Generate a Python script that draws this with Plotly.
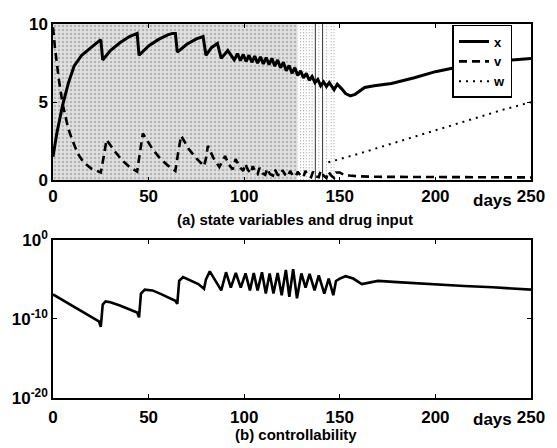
import plotly.graph_objects as go

# ---------------- data: (a) state variables ----------------
x_t = [0, 2, 5, 8, 11, 15, 20, 25, 26, 30, 35, 40, 44, 45, 50, 55, 60, 62.5, 64, 65,
       70, 75, 78.5, 80, 83, 86, 88, 91.4, 94.8,
       96.5, 98, 99.5, 101, 102.5, 104, 105.5, 107, 108.5, 110, 111.5, 113, 114.5,
       116, 117.5, 119, 120.5, 122, 123.5, 125, 126.5, 128, 129.5, 131, 132.5, 134,
       135.5, 137, 138.5, 140, 141.5, 143, 144.5, 147, 148.7, 151, 153, 155.5, 158,
       163, 168, 177, 189, 200, 210, 220, 230, 240, 250]
x_v = [1.5, 3.0, 4.8, 6.2, 7.3, 8.0, 8.5, 9.0, 7.7, 8.3, 8.8, 9.2, 9.4, 8.0, 8.6, 9.0, 9.3, 9.4, 9.4, 8.2,
       8.7, 9.05, 9.2, 8.0, 8.5, 8.75, 7.8, 8.3, 7.7,
       8.1, 7.65, 8.05, 7.6, 8.0, 7.55, 7.95, 7.5, 7.9, 7.45, 7.85, 7.4, 7.8,
       7.3, 7.7, 7.2, 7.55, 7.0, 7.35, 6.85, 7.2, 6.7, 7.0, 6.55, 6.85, 6.4,
       6.65, 6.25, 6.45, 6.05, 6.3, 6.0, 6.25, 5.8, 6.15, 5.85, 5.55, 5.4, 5.5,
       5.94, 6.05, 6.19, 6.56, 6.95, 7.2, 7.4, 7.55, 7.7, 7.8]

v_t = [0, 1, 3, 5, 8, 10, 13, 16, 20, 25, 26.5, 28, 32, 36, 40, 44, 45.5, 47, 52, 56,
       60, 64, 65.5, 67, 71, 75, 79, 80, 81, 84, 87, 88, 90, 92, 94, 95.5, 98, 99.5,
       100.6, 102, 103.5, 104.5, 106, 107, 108, 109.5, 111, 112, 113.5, 115, 116,
       117.5, 119, 120, 121.5, 123, 124, 125.5, 127, 128, 129.5, 131, 132, 133.5,
       135, 136, 137.5, 139, 140, 141.5, 143, 144, 145.5, 147, 148, 150, 152, 155,
       160, 170, 200, 250]
v_v = [9.8, 8.5, 6.5, 4.9, 3.3, 2.6, 1.7, 1.15, 0.75, 0.5, 1.5, 2.6, 1.9, 1.3, 0.85, 0.55, 1.8, 3.0, 2.0, 1.4,
       0.95, 0.6, 1.8, 2.85, 2.0, 1.4, 0.9, 1.4, 2.2, 1.4, 0.85, 1.1, 1.55, 1.0, 0.7, 1.35, 0.8, 0.6,
       1.05, 0.65, 0.45, 0.9, 0.5, 0.4, 0.8, 0.45, 0.35, 0.75, 0.4, 0.3, 0.7,
       0.35, 0.3, 0.65, 0.35, 0.25, 0.6, 0.3, 0.25, 0.55, 0.3, 0.2, 0.6, 0.3,
       0.2, 0.55, 0.25, 0.2, 0.6, 0.3, 0.15, 0.55, 0.3, 0.15, 0.5, 0.5, 0.35, 0.3,
       0.25, 0.22, 0.2, 0.18]

w_t = [144, 160, 180, 200, 220, 235, 250]
w_v = [1.15, 1.7, 2.45, 3.2, 3.95, 4.5, 5.0]

# drug input (bang-bang w) shown as stippled band before switching off
drug_band_t = [0, 128]
drug_band_level = 10
drug_sparse_t = [129.5, 131, 132.5, 134, 135.5, 139, 143, 145.5, 147]
drug_edge_t = [137.2, 141]

# ---------------- data: (b) controllability (log10) ----------------
c_t = [0, 5, 10, 15, 20, 24, 25, 26, 27.5, 30, 35, 40, 44, 45, 46, 48, 52, 56, 60, 64,
       65, 66, 68, 72, 76, 79, 80, 82, 88, 90.5, 93, 95.6, 98.2, 100.7, 103, 105, 107,
       109.3, 111.3, 113.3, 115.3, 117.5, 119.6, 121.8, 123.6, 125.6, 127.6, 129.9,
       132.1, 134.2, 136.8, 139, 141.9, 144.2, 146.6, 148, 150, 153, 157, 161.5, 166,
       170, 180, 190, 200, 215, 230, 240, 250]
c_log = [-6.9, -7.6, -8.3, -9.0, -9.7, -10.3, -11.0, -8.2, -7.8, -7.9, -8.3, -8.8, -9.2, -9.8, -6.8, -6.3, -6.4, -6.8, -7.2, -7.7,
         -8.1, -5.2, -4.7, -5.1, -5.6, -6.2, -5.0, -4.0, -6.4, -4.1, -6.05, -4.2, -6.05, -4.25, -6.4, -4.2, -6.4,
         -4.1, -6.8, -4.25, -6.8, -4.2, -7.0, -3.8, -7.2, -3.7, -7.4, -4.25,
         -6.05, -4.3, -6.4, -4.5, -6.8, -4.9, -7.0, -5.2, -4.9, -4.6, -4.9, -5.6, -5.35,
         -5.2, -5.35, -5.5, -5.7, -5.85, -6.0, -6.15, -6.3]
c_v = [10 ** v for v in c_log]

x_ticks = [0, 50, 100, 150, 200, 250]
y_ticks_a = [0, 5, 10]
y_ticks_b = [1e-20, 1e-10, 1]
y_ticktext_b = ["10<sup>-20</sup>", "10<sup>-10</sup>", "10<sup>0</sup>"]

FONT = "Liberation Sans"

fig = go.Figure()

# stippled drug band
fig.add_trace(go.Scatter(
    x=[drug_band_t[0], drug_band_t[0], drug_band_t[1], drug_band_t[1]],
    y=[0, drug_band_level, drug_band_level, 0],
    fill="toself", mode="none", showlegend=False, hoverinfo="skip",
    fillcolor="#dcdcdc",
    fillpattern=dict(shape=".", fgcolor="#8a8a8a", bgcolor="#e0e0e0", size=4, solidity=0.3),
    xaxis="x", yaxis="y"))
for t in drug_sparse_t:
    fig.add_trace(go.Scatter(x=[t, t], y=[0, drug_band_level], mode="lines",
                             line=dict(color="#9a9a9a", width=1, dash="1px,2px"),
                             showlegend=False, hoverinfo="skip", xaxis="x", yaxis="y"))
for t in drug_edge_t:
    fig.add_trace(go.Scatter(x=[t, t], y=[0, drug_band_level], mode="lines",
                             line=dict(color="#333333", width=1),
                             showlegend=False, hoverinfo="skip", xaxis="x", yaxis="y"))

fig.add_trace(go.Scatter(x=x_t, y=x_v, mode="lines", name="x",
                         line=dict(color="black", width=3), xaxis="x", yaxis="y"))
fig.add_trace(go.Scatter(x=v_t, y=v_v, mode="lines", name="v",
                         line=dict(color="black", width=2.6, dash="8px,5px"), xaxis="x", yaxis="y"))
fig.add_trace(go.Scatter(x=w_t, y=w_v, mode="lines", name="w",
                         line=dict(color="black", width=2, dash="2px,5px"), xaxis="x", yaxis="y"))

fig.add_trace(go.Scatter(x=c_t, y=c_v, mode="lines", showlegend=False,
                         line=dict(color="black", width=2.6), xaxis="x2", yaxis="y2"))

tickfont = dict(family=FONT, size=17, color="black", weight="bold")
axis_common = dict(showline=True, linecolor="black", linewidth=1.5, mirror="ticks",
                   ticks="inside", ticklen=4, tickcolor="black", showgrid=False,
                   zeroline=False, tickfont=tickfont)

fig.update_layout(
    width=557, height=448,
    margin=dict(l=52, r=18, t=15, b=50),
    paper_bgcolor="white", plot_bgcolor="white",
    xaxis=dict(domain=[0, 1], range=[0, 250], tickvals=x_ticks, anchor="y", **axis_common),
    yaxis=dict(domain=[0.5822, 1], range=[0, 10], tickvals=y_ticks_a, anchor="x", **axis_common),
    xaxis2=dict(domain=[0, 1], range=[0, 250], tickvals=x_ticks, anchor="y2",
                ticklabelstandoff=3, **axis_common),
    yaxis2=dict(domain=[0, 0.423], type="log", range=[-20, 0], tickvals=y_ticks_b,
                ticktext=y_ticktext_b, anchor="x2",
                **{**axis_common, "tickfont": dict(family=FONT, size=17, color="black", weight="bold")}),
    legend=dict(x=(459 - 52) / 487, y=1 - (16 - 15) / 383, xanchor="left", yanchor="top",
                bgcolor="white", bordercolor="black", borderwidth=1.5,
                font=dict(family=FONT, size=13, color="black", weight="bold"),
                tracegroupgap=0, itemwidth=30),
    showlegend=True,
    annotations=[
        dict(text="days", x=0.92, y=0.527, xref="paper", yref="paper", showarrow=False,
             xanchor="center", yanchor="middle",
             font=dict(family=FONT, size=17, color="black", weight="bold")),
        dict(text="(a) state variables and drug input", x=0.507, y=0.478, xref="paper", yref="paper",
             xanchor="center", yanchor="middle",
             showarrow=False, font=dict(family=FONT, size=15, color="black", weight="bold")),
        dict(text="days", x=0.92, y=-0.057, xref="paper", yref="paper", showarrow=False,
             xanchor="center", yanchor="middle",
             font=dict(family=FONT, size=17, color="black", weight="bold")),
        dict(text="(b) controllability", x=0.509, y=-0.097, xref="paper", yref="paper",
             xanchor="center", yanchor="middle",
             showarrow=False, font=dict(family=FONT, size=15, color="black", weight="bold")),
    ],
)

fig.write_html("out.html")
